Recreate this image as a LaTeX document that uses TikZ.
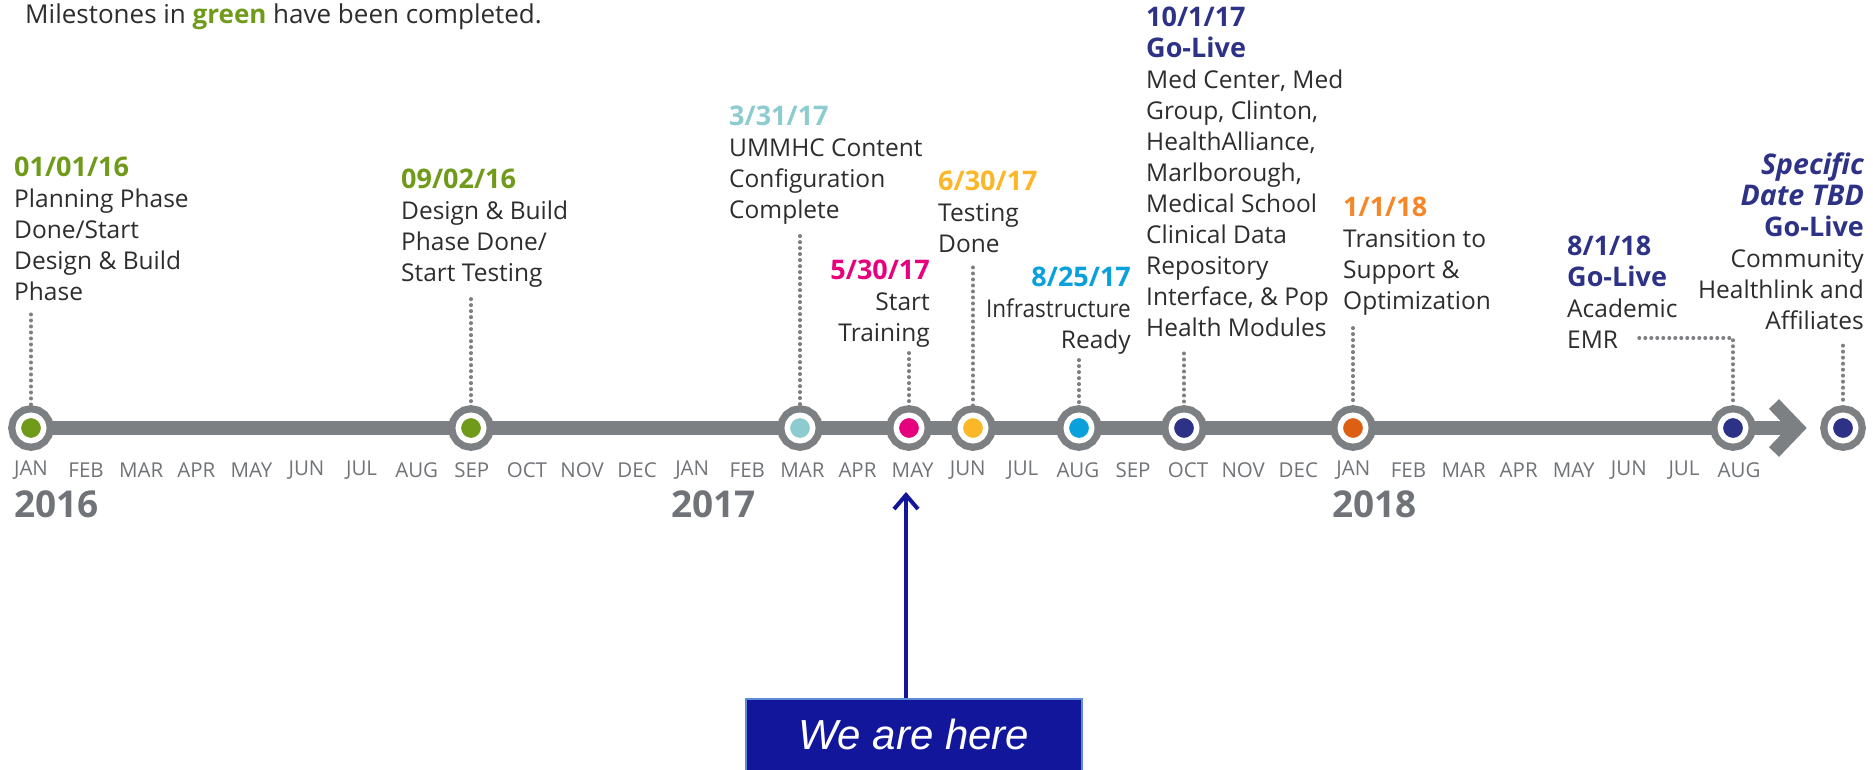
\documentclass[tikz,border=0pt]{standalone}
\usepackage{fontspec}
\setmainfont{Open Sans}
\newfontfamily\herefont{Liberation Sans}
\usetikzlibrary{arrows.meta}

\definecolor{bargray}{RGB}{125,128,131}
\definecolor{dotgray}{RGB}{125,127,130}
\definecolor{txtgray}{RGB}{45,45,45}
\definecolor{mongray}{RGB}{112,115,119}
\definecolor{done}{RGB}{112,155,26}
\definecolor{cfgteal}{RGB}{140,203,207}
\definecolor{trainpink}{RGB}{230,0,126}
\definecolor{testgold}{RGB}{251,183,40}
\definecolor{infrablue}{RGB}{10,160,220}
\definecolor{golive}{RGB}{46,50,135}
\definecolor{supportorange}{RGB}{246,135,40}
\definecolor{supportdot}{RGB}{220,95,20}
\definecolor{herebox}{RGB}{18,22,155}
\definecolor{hereedge}{RGB}{95,140,215}
\newcommand{\mdate}[2]{{\color{#1}\fontsize{27}{31}\selectfont\bfseries #2}}

\begin{document}
\begin{tikzpicture}[x=1pt, y=-1pt,
  ms/.style={circle, inner sep=0pt, outer sep=10pt, minimum size=25.5pt, fill=#1, draw=white, line width=5.5pt, preaction={draw=bargray, line width=20pt}},
  txt/.style={inner sep=0pt, text=txtgray, font=\fontsize{24.5}{31}\selectfont},
  mon/.style={inner sep=0pt, text=mongray, font=\fontsize{20.5}{24}\selectfont},
  yr/.style={inner sep=0pt, anchor=west, text=mongray, font=\fontsize{37}{40}\selectfont\bfseries},
  dots/.style={dotgray, line width=3.5pt, line cap=round, dash pattern=on 0.5pt off 5.5pt},
  bar/.style={bargray, line width=14pt}]
\useasboundingbox (0,0) rectangle (1873,769);

\node[txt, anchor=base west, font=\fontsize{26}{31}\selectfont] (title) at (25,23) {Milestones in {\bfseries\color{done}green} have been completed.};

% timeline bar and arrow head
\coordinate (tip) at (1797,428);
\draw[bar] (31,428) -- (tip);
\draw[bar, line join=miter] (tip) ++(-23,-24) -- (tip) -- ++(-23,24);

\node[ms=done] (jan16) at (31,428) {};
\node[ms=done] (sep16) at (471,428) {};
\node[ms=cfgteal] (mar17) at (800,428) {};
\node[ms=trainpink] (may17) at (909,428) {};
\node[ms=testgold] (jun17) at (973,428) {};
\node[ms=infrablue] (aug17) at (1079,428) {};
\node[ms=golive] (oct17) at (1184,428) {};
\node[ms=supportdot] (jan18) at (1353,428) {};
\node[ms=golive] (aug18) at (1733,428) {};
\node[ms=golive] (tbd) at (1843,428) {};

\foreach \m [count=\i from 0] in {JAN,FEB,MAR,APR,MAY,JUN,JUL,AUG,SEP,OCT,NOV,DEC,JAN,FEB,MAR,APR,MAY,JUN,JUL,AUG,SEP,OCT,NOV,DEC,JAN,FEB,MAR,APR,MAY,JUN,JUL,AUG}
  \node[mon] (mo\i) at (31+55.1*\i,470) {\m};
\node[yr] (y16) at (14,504) {2016};
\node[yr] (y17) at (671,504) {2017};
\node[yr] (y18) at (1332,504) {2018};

% milestone texts
\node[txt, anchor=north west, align=left] (t1) at (14,157) {\mdate{done}{01/01/16}\\Planning Phase\\Done/Start\\Design \& Build\\Phase};
\node[txt, anchor=north west, align=left] (t2) at (401,169) {\mdate{done}{09/02/16}\\Design \& Build\\Phase Done/\\Start Testing};
\node[txt, anchor=north west, align=left] (t3) at (729,106) {\mdate{cfgteal}{3/31/17}\\UMMHC Content\\Configuration\\Complete};
\node[txt, anchor=north east, align=right] (t4) at (930,260) {\mdate{trainpink}{5/30/17}\\Start\\Training};
\node[txt, anchor=north west, align=left] (t5) at (938,171) {\mdate{testgold}{6/30/17}\\Testing\\Done};
\node[txt, anchor=north east, align=right] (t6) at (1131,267) {\mdate{infrablue}{8/25/17}\\{\addfontfeatures{FakeStretch=0.92}Infrastructure}\\Ready};
\node[txt, anchor=north west, align=left] (t7) at (1146,7) {\mdate{golive}{10/1/17}\\\mdate{golive}{Go-Live}\\Med Center, Med\\Group, Clinton,\\HealthAlliance,\\Marlborough,\\Medical School\\Clinical Data\\Repository\\Interface, \& Pop\\Health Modules};
\node[txt, anchor=north west, align=left] (t8) at (1343,197) {\mdate{supportorange}{1/1/18}\\Transition to\\Support \&\\Optimization};
\node[txt, anchor=north west, align=left] (t9) at (1567,236) {\mdate{golive}{8/1/18}\\\mdate{golive}{Go-Live}\\Academic\\EMR};
\node[txt, anchor=north east, align=right] (t10) at (1864,152) {\mdate{golive}{\fontsize{28.5}{31}\selectfont\itshape Specific}\\\mdate{golive}{\fontsize{28.5}{31}\selectfont\itshape Date TBD}\\\mdate{golive}{Go-Live}\\Community\\Healthlink and\\Affiliates};

\draw[dots, shorten <=13pt] (t1.south -| jan16) -- (jan16.north);
\draw[dots, shorten <=11pt] (t2.south -| sep16) -- (sep16.north);
\draw[dots, shorten <=11pt] (t3.south -| mar17) -- (mar17.north);
\draw[dots, shorten <=5pt] (t4.south -| may17) -- (may17.north);
\draw[dots, shorten <=14pt] (t5.south -| jun17) -- (jun17.north);
\draw[dots, shorten <=5pt] (t6.south -| aug17) -- (aug17.north);
\draw[dots, shorten <=16pt] (t7.south -| oct17) -- (oct17.north);
\draw[dots, shorten <=12pt] (t8.south -| jan18) -- (jan18.north);
\coordinate (emr) at (1639,338);
\draw[dots] (emr) -| (aug18.north);
\draw[dots, shorten <=16pt] (t10.south -| tbd) -- (tbd.north);

% current position marker
\node[fill=herebox, draw=hereedge, line width=1.5pt, minimum width=336pt, minimum height=72pt, anchor=north, text=white, font=\herefont\itshape\fontsize{42}{46}\selectfont] (here) at (914,698) {We are here};
\coordinate (now) at (906,492);
\draw[herebox, line width=4pt, -{Straight Barb[length=14pt, width=24pt]}] (here.north -| now) -- (now);
\end{tikzpicture}
\end{document}
